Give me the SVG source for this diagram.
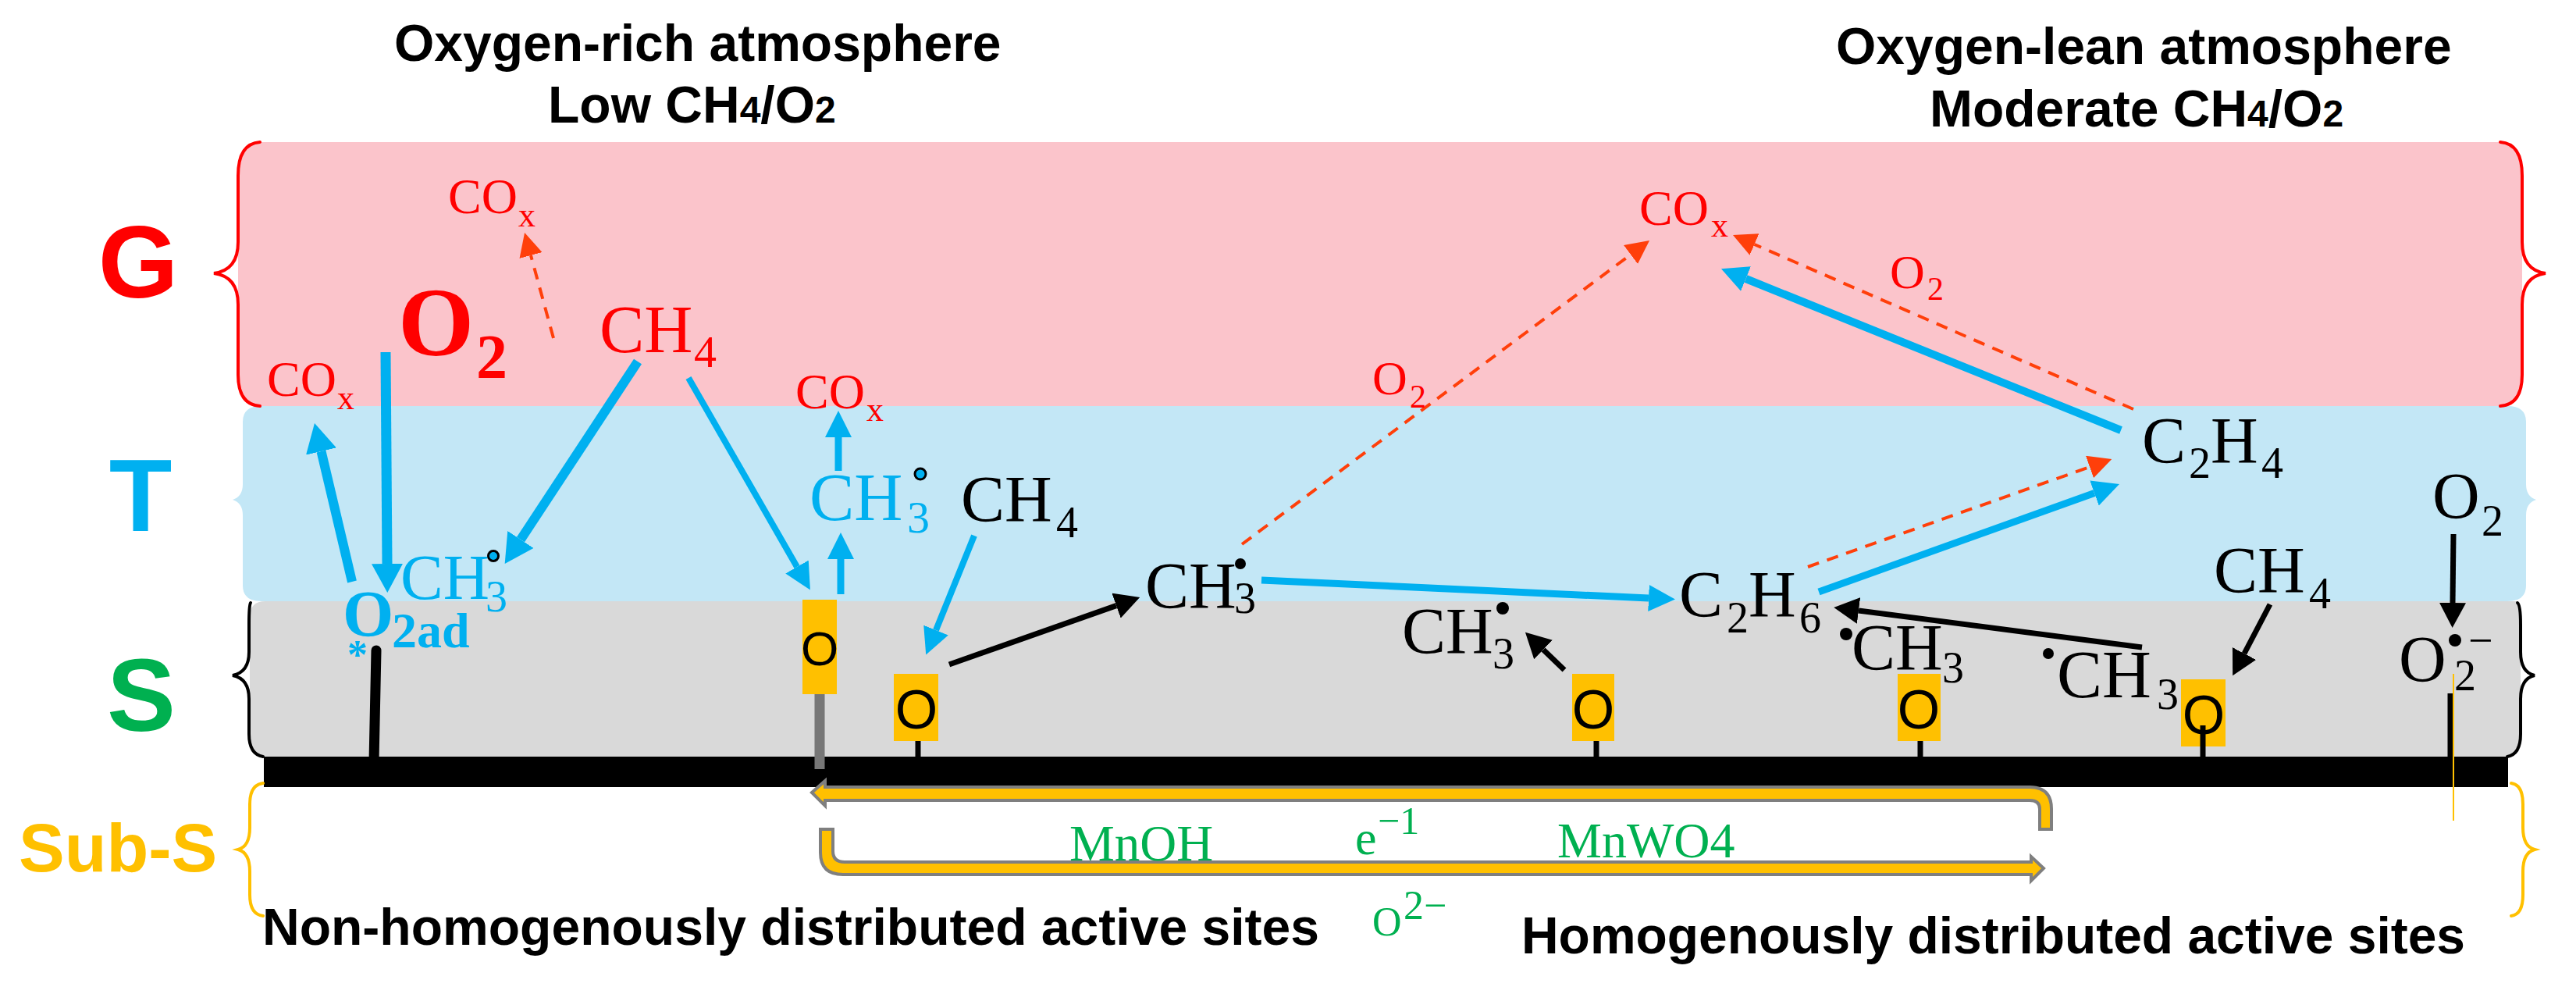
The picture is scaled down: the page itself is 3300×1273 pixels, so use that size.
<svg xmlns="http://www.w3.org/2000/svg" width="3300" height="1273" viewBox="0 0 3300 1273">
<style>
text{font-family:"Liberation Serif","Times New Roman",serif}
.s{font-family:"Liberation Sans",Arial,sans-serif;font-weight:700}
.t{font-size:66px;fill:#000}
.big{font-size:132px}
.m{font-size:84px}
.sb{font-size:56px}
.cox{font-size:64px;fill:#f00}
.coxs{font-size:44px}
.o2r{font-size:62px;fill:#f00}
.o2rs{font-size:42px}
.bl{fill:#00B0F0}
.k{fill:#000}
.r{fill:#f00}
.g{fill:#00B050}
.so{font-family:"Liberation Sans",Arial,sans-serif;text-anchor:middle;fill:#000}
.site{fill:#FFC000}
.dot{fill:#000}
.dotb{fill:#00B0F0;stroke:#000;stroke-width:3}
.brace{fill:none;stroke-width:4;stroke-linecap:round}
.ab{stroke:#00B0F0;fill:none}
.ak{stroke:#000;fill:none;stroke-width:7}
.ar{stroke:#FF3F0A;fill:none;stroke-width:4;stroke-dasharray:15 11}
.y{fill:#FFC000;stroke:#7F7F7F;stroke-width:4}
.st{stroke:#000;stroke-width:7;fill:none}
</style>
<defs>
<marker id="hb" markerUnits="userSpaceOnUse" markerWidth="34" markerHeight="34" refX="0" refY="17" orient="auto"><path d="M0,0L34,17L0,34Z" fill="#00B0F0"/></marker>
<marker id="hbt" markerUnits="userSpaceOnUse" markerWidth="37" markerHeight="40" refX="0" refY="20" orient="auto"><path d="M0,0L37,20L0,40Z" fill="#00B0F0"/></marker>
<marker id="hk" markerUnits="userSpaceOnUse" markerWidth="32" markerHeight="34" refX="0" refY="17" orient="auto"><path d="M0,0L32,17L0,34Z" fill="#000"/></marker>
<marker id="hr" markerUnits="userSpaceOnUse" markerWidth="30" markerHeight="30" refX="0" refY="15" orient="auto"><path d="M0,0L30,15L0,30Z" fill="#FF3F0A"/></marker>
</defs>
<g id="bands">
<path fill="#FBC4CB" d="M333,182Q305,182 305,215V490Q305,520 333,520H3203Q3231,520 3231,490V215Q3231,182 3203,182Z"/>
<path fill="#C3E7F6" d="M335,520Q311,520 311,540V620Q311,636 298,640Q311,644 311,660V750Q311,770 335,770H3212Q3236,770 3236,750V660Q3236,644 3249,640Q3236,636 3236,620V540Q3236,520 3212,520Z"/>
<path fill="#D9D9D9" d="M340,770Q320,770 320,790V945Q320,969 340,969H3212Q3229,969 3229,945V790Q3229,770 3225,770Z"/>
<rect id="surface" x="338" y="969" width="2875" height="39" fill="#000"/>
</g>
<g id="braces">
<path class="brace" stroke="#f00" d="M333,182Q305,184 305,225V310Q305,346 274,350Q305,354 305,390V480Q305,518 333,520"/>
<path class="brace" stroke="#f00" d="M3203,182Q3231,184 3231,225V310Q3231,346 3261,350Q3231,354 3231,390V480Q3231,518 3203,520"/>
<path class="brace" stroke="#000" d="M321,772Q319,775 319,800V835Q319,861 298,865Q319,869 319,895V940Q319,966 337,969"/>
<path class="brace" stroke="#000" d="M3225,772Q3229,775 3229,800V835Q3229,861 3247,865Q3229,869 3229,895V940Q3229,966 3212,969"/>
<path class="brace" stroke="#FFC000" d="M337,1003Q320,1005 320,1030V1060Q320,1084 305,1088Q320,1092 320,1116V1146Q320,1171 337,1173"/>
<path class="brace" stroke="#FFC000" d="M3217,1003Q3232,1005 3232,1030V1060Q3232,1084 3247,1088Q3232,1092 3232,1116V1146Q3232,1171 3217,1173"/>
</g>
<g id="labels">
<text class="s big" x="177" y="381" text-anchor="middle" fill="#f00">G</text>
<text class="s big" x="180" y="680" text-anchor="middle" fill="#00B0F0">T</text>
<text class="s big" x="181" y="936" text-anchor="middle" fill="#00B050">S</text>
<text class="s" font-size="88" x="24" y="1116" fill="#FFC000">Sub-S</text>
<text class="s t" x="505" y="78">Oxygen-rich atmosphere</text>
<text class="s t" x="702" y="157">Low CH<tspan font-size="48">4</tspan>/O<tspan font-size="48">2</tspan></text>
<text class="s t" x="2352" y="82">Oxygen-lean atmosphere</text>
<text class="s t" x="2472" y="162">Moderate CH<tspan font-size="48">4</tspan>/O<tspan font-size="48">2</tspan></text>
<text class="s t" x="336" y="1210" textLength="1354" lengthAdjust="spacingAndGlyphs">Non-homogenously distributed active sites</text>
<text class="s t" x="1949" y="1221" textLength="1209" lengthAdjust="spacingAndGlyphs">Homogenously distributed active sites</text>
</g>
<g id="sticks">
<path class="st" stroke-linecap="round" style="stroke-width:13" d="M482,833L479,975"/>
<path d="M1050,889V985" stroke="#777" stroke-width="13" fill="none"/>
<path class="st" d="M1176,939V972"/>
<path class="st" d="M2045,942V972"/>
<path class="st" d="M2460,942V972"/>
<path class="st" d="M3139,888V972"/>
</g>
<g id="sites">
<g id="site-1"><rect class="site" x="1028" y="768" width="44" height="121"/><text class="so" font-size="62" x="1050" y="852">O</text></g>
<g id="site-2"><rect class="site" x="1145" y="863" width="57" height="86"/><text class="so" font-size="70" x="1174" y="933">O</text></g>
<g id="site-3"><rect class="site" x="2014" y="863" width="54" height="86"/><text class="so" font-size="70" x="2041" y="933">O</text></g>
<g id="site-4"><rect class="site" x="2431" y="863" width="55" height="86"/><text class="so" font-size="70" x="2458" y="933">O</text></g>
<g id="site-5"><rect class="site" x="2794" y="870" width="57" height="86"/><text class="so" font-size="70" x="2823" y="940">O</text></g>
</g>
<path class="st" d="M2822,929V972"/>
<g id="connectors">
<path class="ab" stroke-width="12" marker-end="url(#hbt)" d="M451,745L411.5,578"/>
<path class="ab" stroke-width="13" marker-end="url(#hbt)" d="M494,451L496,722"/>
<path class="ab" stroke-width="12" marker-end="url(#hbt)" d="M817,463L667,691"/>
<path class="ab" stroke-width="8" marker-end="url(#hb)" d="M882,484L1021,726"/>
<path class="ab" stroke-width="9" marker-end="url(#hb)" d="M1077,761V716"/>
<path class="ab" stroke-width="9" marker-end="url(#hb)" d="M1074,603V560"/>
<path class="ab" stroke-width="8" marker-end="url(#hb)" d="M1248,686L1199,807"/>
<path class="ab" stroke-width="9" marker-end="url(#hb)" d="M1616,743L2112,766"/>
<path class="ab" stroke-width="9" marker-end="url(#hb)" d="M2330,758L2683,631.5"/>
<path class="ab" stroke-width="10" marker-end="url(#hb)" d="M2717,551L2236.5,357"/>
<path class="ak" marker-end="url(#hk)" d="M1216,851L1430,775.6"/>
<path class="ak" marker-end="url(#hk)" d="M2004,858L1977,832"/>
<path class="ak" marker-end="url(#hk)" d="M2744,829L2381,782"/>
<path class="ak" marker-end="url(#hk)" d="M2908,774L2875,837"/>
<path class="ak" marker-end="url(#hk)" d="M3143,684L3142,772"/>
<path class="ar" marker-end="url(#hr)" d="M709,433L680,327"/>
<path class="ar" marker-end="url(#hr)" d="M1591,697L2089,326"/>
<path class="ar" marker-end="url(#hr)" d="M2733,524L2247.5,313"/>
<path class="ar" marker-end="url(#hr)" d="M2316,726L2677,598"/>
<path class="y" d="M1040,1015L1057,1000V1008H2600Q2628,1008 2628,1036V1062H2613V1036Q2613,1025 2600,1025H1057V1032Z"/>
<path class="y" d="M1051,1062H1067V1090Q1067,1104 1082,1104H2602V1097L2618,1112L2602,1128V1120H1080Q1051,1120 1051,1092Z"/>
<path d="M3143,863V1051" stroke="#FFC000" stroke-width="2" fill="none"/>
</g>
<g id="species">
<g id="cox-1"><text class="cox" x="574" y="273">CO<tspan class="coxs" x="664" y="290">x</tspan></text></g>
<g id="cox-2"><text class="cox" x="342" y="507">CO<tspan class="coxs" x="432" y="524">x</tspan></text></g>
<g id="cox-3"><text class="cox" x="1019" y="523">CO<tspan class="coxs" x="1110" y="539">x</tspan></text></g>
<g id="cox-4"><text class="cox" x="2100" y="288">CO<tspan class="coxs" x="2192" y="303">x</tspan></text></g>
<g id="o2-gas"><text class="r" font-weight="700" font-size="125" x="510" y="455">O<tspan font-size="80" x="610" y="484">2</tspan></text></g>
<g id="ch4-red"><text class="r m" x="768" y="451" style="font-size:86px">CH<tspan font-size="58" x="889" y="470">4</tspan></text></g>
<g id="o2-label-1"><text class="o2r" x="2421" y="369">O<tspan class="o2rs" x="2469" y="384">2</tspan></text></g>
<g id="o2-label-2"><text class="o2r" x="1758" y="505">O<tspan class="o2rs" x="1806" y="522">2</tspan></text></g>
<g id="ch3-blue-1"><text class="bl m" x="513" y="767" style="font-size:82px">CH<tspan font-size="56" x="622" y="783">3</tspan></text><circle class="dotb" cx="632" cy="712" r="6.5"/></g>
<g id="o2ad"><text class="bl" font-weight="700" font-size="84" x="439" y="815">O<tspan font-size="64" x="502" y="829">2ad</tspan></text><text class="bl" font-weight="700" font-size="52" x="445" y="856">*</text></g>
<g id="ch3-blue-2"><text class="bl m" x="1037" y="666" style="font-size:86px">CH<tspan font-size="58" x="1162" y="682">3</tspan></text><circle class="dotb" cx="1179" cy="607" r="7"/></g>
<g id="ch4-1"><text class="k m" x="1231" y="668">CH<tspan class="sb" x="1353" y="688">4</tspan></text></g>
<g id="ch3-1"><text class="k m" x="1467" y="779">CH<tspan class="sb" x="1581" y="785">3</tspan></text><circle class="dot" cx="1589" cy="722" r="7"/></g>
<g id="c2h6"><text class="k m" x="2151" y="790">C<tspan class="sb" x="2212" y="810">2</tspan><tspan x="2240" y="790">H</tspan><tspan class="sb" x="2305" y="810">6</tspan></text></g>
<g id="c2h4"><text class="k m" x="2744" y="593">C<tspan class="sb" x="2804" y="612">2</tspan><tspan x="2832" y="593">H</tspan><tspan class="sb" x="2897" y="612">4</tspan></text></g>
<g id="ch3-2"><text class="k m" x="1796" y="837">CH<tspan class="sb" x="1912" y="856">3</tspan></text><circle class="dot" cx="1925" cy="779" r="8"/></g>
<g id="ch3-3"><text class="k m" x="2372" y="858">CH<tspan class="sb" x="2488" y="874">3</tspan></text><circle class="dot" cx="2365" cy="812" r="8"/></g>
<g id="ch3-4"><text class="k m" x="2635" y="893" style="font-size:87px">CH<tspan class="sb" x="2763" y="908">3</tspan></text><circle class="dot" cx="2624" cy="837" r="7"/></g>
<g id="ch4-2"><text class="k m" x="2836" y="759">CH<tspan class="sb" x="2958" y="779">4</tspan></text></g>
<g id="o2-1"><text class="k m" x="3116" y="664">O<tspan class="sb" x="3179" y="686">2</tspan></text></g>
<g id="o2-ion"><text class="k m" x="3073" y="873">O<tspan class="sb" x="3144" y="884">2</tspan></text><circle class="dot" cx="3145" cy="820" r="8"/><text class="k" font-size="56" x="3162" y="839">−</text></g>
</g>
<g id="sublabels">
<text class="g" font-size="65" x="1370" y="1102">MnOH</text>
<text class="g" font-size="64" x="1995" y="1098">MnWO4</text>
<text class="g" font-size="62" x="1736" y="1094">e<tspan font-size="50" x="1765" y="1068">−1</tspan></text>
<text class="g" font-size="52" x="1758" y="1198">O<tspan font-size="52" x="1798" y="1177">2−</tspan></text>
</g>
</svg>
